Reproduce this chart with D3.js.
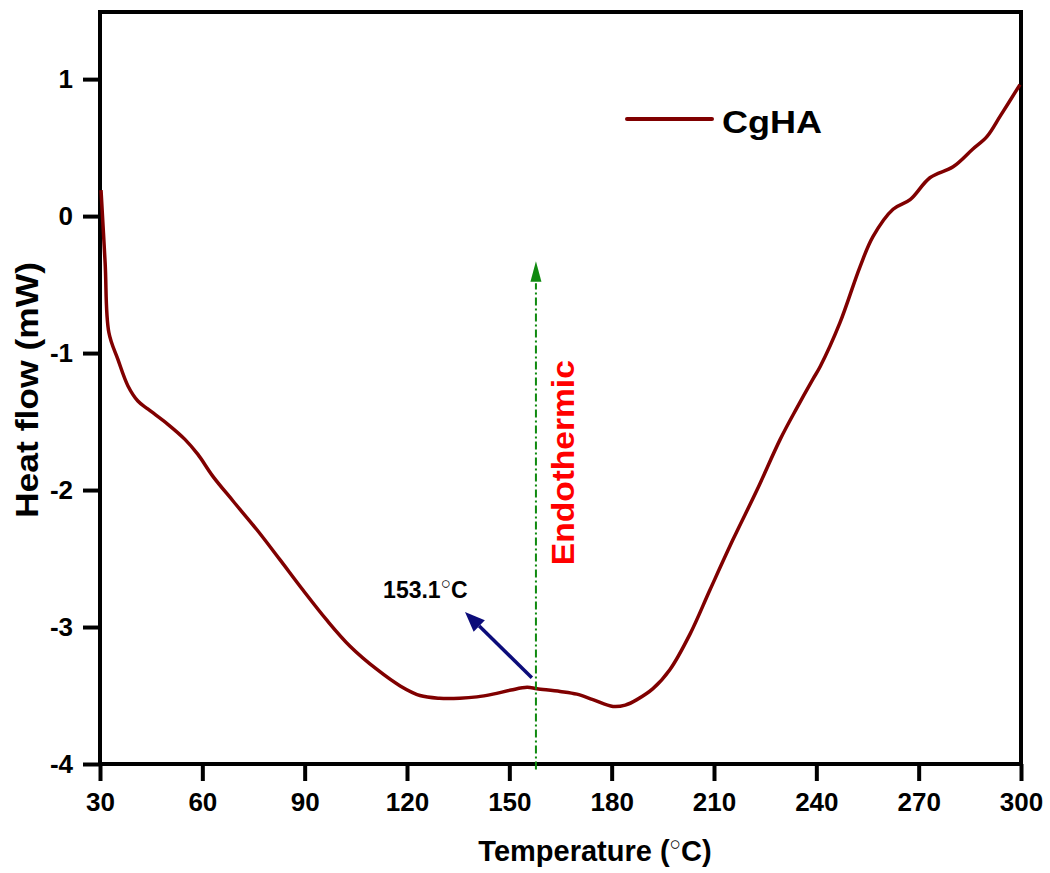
<!DOCTYPE html>
<html><head><meta charset="utf-8">
<script src="https://cdn.jsdelivr.net/npm/d3@7"></script>
<style>
html,body{margin:0;padding:0;background:#fff;}
svg text{font-family:Arial,"Liberation Sans",sans-serif;font-weight:bold;}
</style></head>
<body>
<svg id="chart" width="1050" height="873"></svg>
<script>
// ---- data ----
const temperature = [30.3,31.5,32.6,35.3,38.2,41.1,44.1,49.9,54.9,58.7,63.1,69.0,76.0,82.8,89.5,96.5,103.3,111.2,118.0,123.8,129.5,135.5,140.5,145.2,150.5,155.2,158.1,164.9,169.8,174.5,180.4,184.0,187.4,192.1,197.1,203.0,208.8,215.6,222.6,229.4,234.3,239.0,241.1,246.9,252.8,256.6,262.5,267.5,273.3,280.1,285.9,290.0,293.9,299.7];
const heatFlow    = [0.19,-0.34,-0.85,-1.05,-1.24,-1.35,-1.41,-1.52,-1.63,-1.74,-1.90,-2.08,-2.29,-2.51,-2.73,-2.95,-3.14,-3.31,-3.43,-3.50,-3.52,-3.52,-3.51,-3.49,-3.46,-3.44,-3.45,-3.47,-3.49,-3.53,-3.58,-3.57,-3.53,-3.45,-3.31,-3.05,-2.73,-2.36,-2.00,-1.63,-1.40,-1.19,-1.10,-0.78,-0.37,-0.15,0.05,0.12,0.28,0.36,0.49,0.58,0.73,0.96];
const xTicks = [30,60,90,120,150,180,210,240,270,300];
const yTicks = [-4,-3,-2,-1,0,1];
const seriesName = "CgHA";
const peakLabel = "153.1";
const peakTemp = 157.8;

// ---- layout ----
const L = 100, R = 1021, T = 12, B = 764;
const svg = d3.select("#chart");
const x = d3.scaleLinear().domain([30,300]).range([L,R]);
const y = d3.scaleLinear().domain([-4,1.49]).range([B,T]);

// frame
svg.append("rect").attr("x",L).attr("y",T).attr("width",R-L).attr("height",B-T)
  .attr("fill","none").attr("stroke","#000").attr("stroke-width",4);

// axes
const fmt = d => String(d);
const xa = svg.append("g").attr("transform",`translate(0,${B})`)
  .call(d3.axisBottom(x).tickValues(xTicks).tickSize(17).tickPadding(12).tickFormat(fmt));
const ya = svg.append("g").attr("transform",`translate(${L},0)`)
  .call(d3.axisLeft(y).tickValues(yTicks).tickSize(17).tickPadding(10).tickFormat(fmt));
[xa,ya].forEach(g=>{
  g.select(".domain").remove();
  g.selectAll(".tick line").attr("stroke","#000").attr("stroke-width",4);
  g.selectAll(".tick text").attr("fill","#000").style("font-size","26px");
});

// curve
const pts = temperature.map((t,i)=>[t,heatFlow[i]]);
svg.append("path").datum(pts)
  .attr("d",d3.line().x(d=>x(d[0])).y(d=>y(d[1])).curve(d3.curveCatmullRom.alpha(0.5)))
  .attr("fill","none").attr("stroke","#800000").attr("stroke-width",3.5).attr("stroke-linejoin","round");

// green endothermic arrow
const gx = x(peakTemp);
svg.append("line").attr("x1",gx).attr("x2",gx).attr("y1",y(-4.04)).attr("y2",y(-0.49))
  .attr("stroke","#0f8a0f").attr("stroke-width",2).attr("stroke-dasharray","8,3,2,3");
svg.append("path").attr("d",`M${gx},${y(-0.33)} L${gx-5.5},${y(-0.48)} L${gx+5.5},${y(-0.48)} Z`)
  .attr("fill","#0f8a0f");
svg.append("text").attr("transform",`translate(${x(168.9)},${y(-1.80)}) rotate(-90)`)
  .attr("text-anchor","middle").attr("fill","#ff0000").style("font-size","32px")
  .attr("textLength",205).attr("lengthAdjust","spacingAndGlyphs").text("Endothermic");

// blue arrow
const bx1 = x(156.6), by1 = y(-3.37), bx2 = x(137.0), by2 = y(-2.89);
const ang = Math.atan2(by2-by1,bx2-bx1), hl = 20, hw = 8;
const bxb = bx2 - hl*Math.cos(ang), byb = by2 - hl*Math.sin(ang);
svg.append("line").attr("x1",bx1).attr("y1",by1).attr("x2",bxb).attr("y2",byb)
  .attr("stroke","#0c0c7a").attr("stroke-width",3.5);
svg.append("path").attr("d",`M${bx2},${by2} L${bxb+hw*Math.sin(ang)},${byb-hw*Math.cos(ang)} L${bxb-hw*Math.sin(ang)},${byb+hw*Math.cos(ang)} Z`)
  .attr("fill","#0c0c7a");
const pl = svg.append("text").attr("x",x(113.0)).attr("y",y(-2.785)).attr("fill","#000").style("font-size","23px");
pl.append("tspan").text(peakLabel);
pl.append("tspan").attr("dy",-9).style("font-size","17px").style("font-weight","normal").text("○");
pl.append("tspan").attr("dy",9).text("C");

// legend
svg.append("line").attr("x1",627).attr("x2",712).attr("y1",119).attr("y2",119)
  .attr("stroke","#800000").attr("stroke-width",4).attr("stroke-linecap","round");
svg.append("text").attr("x",722).attr("y",133).attr("fill","#000").style("font-size","32px")
  .attr("textLength",100).attr("lengthAdjust","spacingAndGlyphs").text(seriesName);

// axis titles
const xt = svg.append("text").attr("x",595).attr("y",861).attr("text-anchor","middle").attr("fill","#000").style("font-size","29px");
xt.append("tspan").text("Temperature (");
xt.append("tspan").attr("dy",-11).style("font-size","19px").style("font-weight","normal").text("○");
xt.append("tspan").attr("dy",11).text("C)");
svg.append("text").attr("transform",`translate(38,390) rotate(-90)`).attr("text-anchor","middle")
  .attr("fill","#000").style("font-size","31px")
  .attr("textLength",256).attr("lengthAdjust","spacingAndGlyphs").text("Heat flow (mW)");
</script>
</body></html>
